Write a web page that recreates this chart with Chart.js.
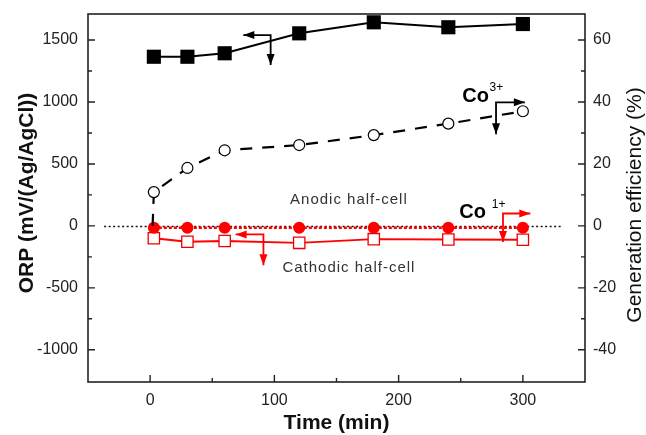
<!DOCTYPE html>
<html><head><meta charset="utf-8">
<script src="https://cdn.jsdelivr.net/npm/chart.js@4/dist/chart.umd.min.js"></script>
<style>html,body{margin:0;padding:0;background:#fff}#wrap{width:646px;height:435px;position:relative}</style>
</head><body><div id="wrap"><canvas id="c" width="646" height="435"></canvas></div>
<script>
// ---- data ----
const timeMin     = [3, 30, 60, 120, 180, 240, 300];
const orpAnodic   = [1365, 1365, 1393, 1554, 1643, 1603, 1629];   // mV, left axis
const orpCathodic = [-100, -128, -122, -137, -107, -110, -112];   // mV, left axis
const co3Time     = [2, 3, 30, 60, 120, 180, 240, 300];
const co3Eff      = [0, 10.9, 18.7, 24.4, 26.1, 29.3, 33.0, 37.0]; // %, right axis
const co1Eff      = [-0.6, -0.6, -0.6, -0.6, -0.6, -0.6, -0.6];    // %, right axis
const xTicks   = [0, 100, 200, 300];
const orpTicks = [-1000, -500, 0, 500, 1000, 1500];
const effTicks = [-40, -20, 0, 20, 40, 60];
const xRange   = [-50, 350];
const orpRange = [-1260, 1710];
const effPerMv = 1 / 25;   // 20 % corresponds to 500 mV

const arrows = [
  {axis: 'y',  color: '#000', corner: [97, 1540],   tipX: 75,    tipY: 1298},
  {axis: 'y1', color: '#000', corner: [278.4, 39.9], tipX: 301.6, tipY: 29.6},
  {axis: 'y1', color: '#f00', corner: [284, 4.0],   tipX: 306,   tipY: -5.2},
  {axis: 'y',  color: '#f00', corner: [91.2, -69],  tipX: 68.8,  tipY: -317}
];
const notes = [
  {text: 'Anodic half-cell',   axis: 'y', x: 160, y: 214},
  {text: 'Cathodic half-cell', axis: 'y', x: 160, y: -341}
];
const ions = [
  {base: 'Co', sup: '3+', axis: 'y1', x: 251.2, y: 41.8, sx: 273.2, sy: 44.6},
  {base: 'Co', sup: '1+', axis: 'y1', x: 248.8, y: 4.3,  sx: 275.0, sy: 7.0}
];
const zeroLine = [-37, 331];

const pts = (xs, ys) => xs.map((x, i) => ({x, y: ys[i]}));

function arrowHead(ctx, x, y, dx, dy, len, half) {
  ctx.beginPath();
  ctx.moveTo(x, y);
  ctx.lineTo(x - dx * len - dy * half, y - dy * len + dx * half);
  ctx.lineTo(x - dx * len + dy * half, y - dy * len - dx * half);
  ctx.closePath();
  ctx.fill();
}

const decor = {
  id: 'decor',
  beforeDatasetsDraw(chart) {
    const {ctx, scales: {x, y}} = chart;
    ctx.save();
    ctx.strokeStyle = '#111';
    ctx.lineWidth = 1.3;
    ctx.setLineDash([2, 2.5]);
    ctx.beginPath();
    const py = Math.round(y.getPixelForValue(0)) + 0.5;
    ctx.moveTo(x.getPixelForValue(zeroLine[0]), py);
    ctx.lineTo(x.getPixelForValue(zeroLine[1]), py);
    ctx.stroke();
    ctx.restore();
  },
  afterDatasetsDraw(chart) {
    const {ctx, scales} = chart;
    const x = scales.x;
    ctx.save();
    arrows.forEach(a => {
      const ys = scales[a.axis];
      const cx = x.getPixelForValue(a.corner[0]), cy = ys.getPixelForValue(a.corner[1]);
      const hx = x.getPixelForValue(a.tipX), vy = ys.getPixelForValue(a.tipY);
      ctx.strokeStyle = a.color; ctx.fillStyle = a.color; ctx.lineWidth = 1.8;
      ctx.beginPath();
      ctx.moveTo(hx, cy); ctx.lineTo(cx, cy); ctx.lineTo(cx, vy);
      ctx.stroke();
      const dx = Math.sign(hx - cx);
      arrowHead(ctx, hx, cy, dx, 0, 11, 4);
      arrowHead(ctx, cx, vy, 0, 1, 11, 4);
    });
    ctx.fillStyle = '#333';
    ctx.font = '15px "Liberation Sans", Arial, sans-serif';
    ctx.textAlign = 'center';
    ctx.textBaseline = 'middle';
    try { ctx.letterSpacing = '1px'; } catch (e) {}
    notes.forEach(n => {
      ctx.fillText(n.text, x.getPixelForValue(n.x), scales[n.axis].getPixelForValue(n.y));
    });
    try { ctx.letterSpacing = '0px'; } catch (e) {}
    ctx.fillStyle = '#000';
    ctx.textAlign = 'left';
    ions.forEach(n => {
      const ys = scales[n.axis];
      ctx.font = 'bold 20px "Liberation Sans", Arial, sans-serif';
      ctx.fillText(n.base, x.getPixelForValue(n.x), ys.getPixelForValue(n.y));
      ctx.font = '12px "Liberation Sans", Arial, sans-serif';
      ctx.fillText(n.sup, x.getPixelForValue(n.sx), ys.getPixelForValue(n.sy));
    });
    ctx.restore();
  },
  afterDraw(chart) {
    const {ctx, chartArea: a, scales: {x, y, y1}} = chart;
    ctx.save();
    ctx.strokeStyle = '#222';
    ctx.lineWidth = 1.6;
    ctx.strokeRect(a.left, a.top, a.right - a.left, a.bottom - a.top);
    const mids = arr => arr.slice(1).map((v, i) => (v + arr[i]) / 2);
    ctx.lineWidth = 1.4;
    ctx.beginPath();
    xTicks.forEach(v => { const p = x.getPixelForValue(v); ctx.moveTo(p, a.bottom); ctx.lineTo(p, a.bottom - 7); });
    mids(xTicks).forEach(v => { const p = x.getPixelForValue(v); ctx.moveTo(p, a.bottom); ctx.lineTo(p, a.bottom - 4); });
    orpTicks.forEach(v => { const p = y.getPixelForValue(v); ctx.moveTo(a.left, p); ctx.lineTo(a.left + 7, p); });
    mids(orpTicks).forEach(v => { const p = y.getPixelForValue(v); ctx.moveTo(a.left, p); ctx.lineTo(a.left + 4, p); });
    effTicks.forEach(v => { const p = y1.getPixelForValue(v); ctx.moveTo(a.right, p); ctx.lineTo(a.right - 7, p); });
    mids(effTicks).forEach(v => { const p = y1.getPixelForValue(v); ctx.moveTo(a.right, p); ctx.lineTo(a.right - 4, p); });
    ctx.stroke();
    // axis titles
    ctx.fillStyle = '#111';
    ctx.textAlign = 'center';
    ctx.textBaseline = 'middle';
    ctx.font = 'bold 21px "Liberation Sans", Arial, sans-serif';
    ctx.fillText('Time (min)', (a.left + a.right) / 2, 423);
    ctx.save();
    ctx.translate(27, 193);
    ctx.rotate(-Math.PI / 2);
    ctx.fillText('ORP (mV/(Ag/AgCl))', 0, 0);
    ctx.restore();
    ctx.save();
    ctx.translate(635, 205);
    ctx.rotate(-Math.PI / 2);
    ctx.font = '21px "Liberation Sans", Arial, sans-serif';
    ctx.fillText('Generation efficiency (%)', 0, 0);
    ctx.restore();
    ctx.restore();
  }
};

const tickFont = {family: '"Liberation Sans", Arial, sans-serif', size: 16};
const plain = v => String(v);
const noPad = s => { s.paddingTop = 0; s.paddingBottom = 0; s.paddingLeft = 0; s.paddingRight = 0; };

new Chart(document.getElementById('c'), {
  type: 'line',
  data: {
    datasets: [
      {label: 'ORP anodic', data: pts(timeMin, orpAnodic), yAxisID: 'y',
       borderColor: '#000', backgroundColor: '#000', borderWidth: 2,
       pointStyle: 'rect', pointRadius: 10, pointBorderWidth: 0, pointBackgroundColor: '#000'},
      {label: 'Co3+ efficiency', data: pts(co3Time, co3Eff), yAxisID: 'y1',
       borderColor: '#000', borderWidth: 2.2, borderDash: [12, 10],
       pointStyle: 'circle', pointRadius: ctx => ctx.dataIndex === 0 ? 0 : 5.5,
       pointBorderWidth: 1.2, pointBorderColor: '#000', pointBackgroundColor: '#fff'},
      {label: 'Co1+ efficiency', data: pts(timeMin, co1Eff), yAxisID: 'y1',
       borderColor: '#f00', borderWidth: 2.5, borderDash: [3, 2],
       pointStyle: 'circle', pointRadius: 6, pointBorderWidth: 0, pointBackgroundColor: '#f00'},
      {label: 'ORP cathodic', data: pts(timeMin, orpCathodic), yAxisID: 'y',
       borderColor: '#f00', borderWidth: 1.8,
       pointStyle: 'rect', pointRadius: 8, pointBorderWidth: 1.3, pointBorderColor: '#e00', pointBackgroundColor: '#fff'}
    ]
  },
  options: {
    responsive: false,
    animation: false,
    devicePixelRatio: 1,
    layout: {padding: {top: 14, left: 0, right: 0, bottom: 0}},
    plugins: {legend: {display: false}, tooltip: {enabled: false}},
    elements: {line: {tension: 0}},
    scales: {
      x: {type: 'linear', min: xRange[0], max: xRange[1],
          grid: {display: false, drawTicks: false}, border: {display: false},
          afterBuildTicks: s => { s.ticks = xTicks.map(v => ({value: v})); },
          afterFit: s => { s.height = 53; noPad(s); },
          ticks: {font: tickFont, color: '#222', padding: 9, maxRotation: 0, autoSkip: false, callback: plain}},
      y: {type: 'linear', position: 'left', min: orpRange[0], max: orpRange[1],
          grid: {display: false, drawTicks: false}, border: {display: false},
          afterBuildTicks: s => { s.ticks = orpTicks.map(v => ({value: v})); },
          afterFit: s => { s.width = 88; noPad(s); },
          ticks: {font: tickFont, color: '#222', padding: 10, autoSkip: false, callback: plain}},
      y1: {type: 'linear', position: 'right', min: orpRange[0] * effPerMv, max: orpRange[1] * effPerMv,
          grid: {display: false, drawTicks: false}, border: {display: false},
          afterBuildTicks: s => { s.ticks = effTicks.map(v => ({value: v})); },
          afterFit: s => { s.width = 61; noPad(s); },
          ticks: {font: tickFont, color: '#222', padding: 8, autoSkip: false, callback: plain}}
    }
  },
  plugins: [decor]
});
</script>
</body></html>
